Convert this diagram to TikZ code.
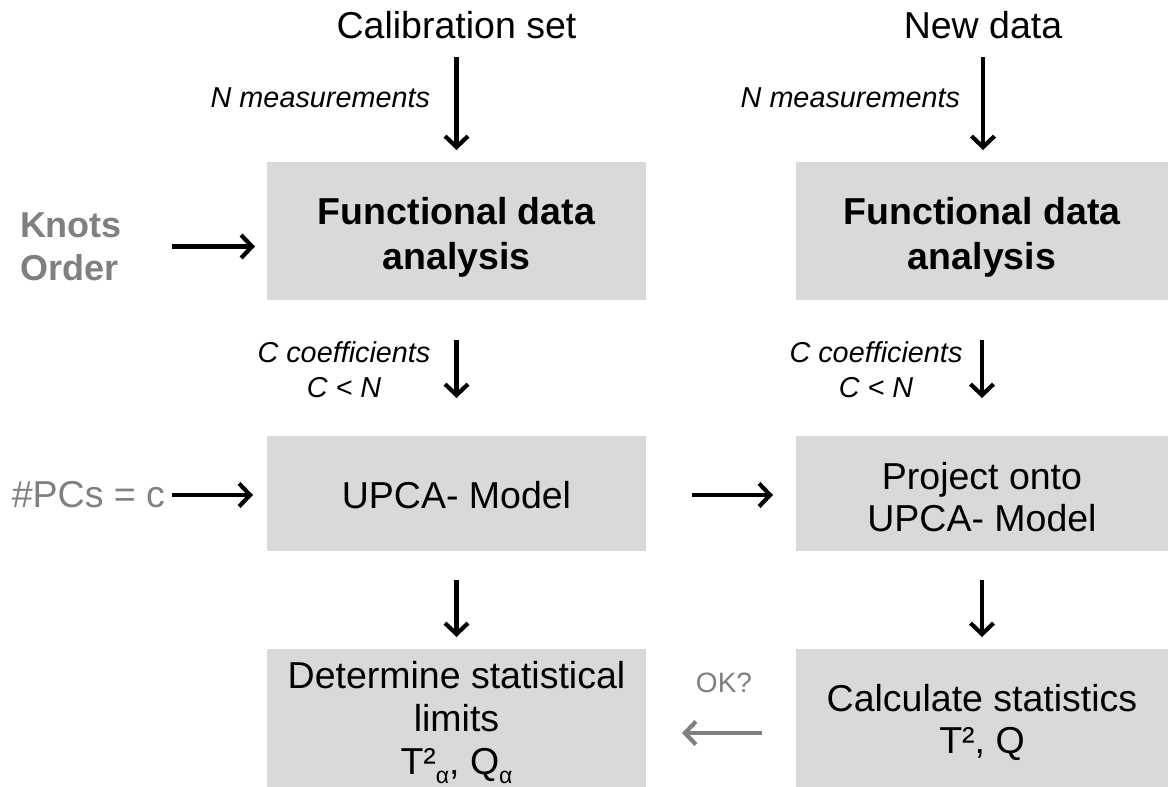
\documentclass[tikz,border=0pt]{standalone}
\usepackage{fontspec}
\setmainfont{Liberation Sans}
\usetikzlibrary{arrows.meta,calc}
\newcommand\fsz[2]{\fontsize{#1}{#2}\selectfont}
\definecolor{boxgray}{HTML}{D9D9D9}
\definecolor{txtgray}{HTML}{808080}
\begin{document}
\begin{tikzpicture}[x=1pt,y=-1pt,
  procbox/.style={fill=boxgray,draw=none,inner sep=0pt,outer sep=0pt},
  proctext/.style={inner sep=0pt,outer sep=0pt,align=center,text=black,font=\fsz{37.5}{44}},
  lbl/.style={inner sep=0pt,outer sep=0pt},
  arr/.style={line width=4.2pt,-{Straight Barb[length=11pt,width=23pt]}},
  garr/.style={arr,draw=txtgray}]
\useasboundingbox (0,0) rectangle (1170,787);
% boxes
\node[procbox,minimum width=379pt,minimum height=138pt] (fda1) at (456.5,231) {};
\node[procbox,minimum width=372pt,minimum height=138pt] (fda2) at (982,231) {};
\node[procbox,minimum width=379pt,minimum height=115pt] (upca1) at (456.5,493.5) {};
\node[procbox,minimum width=372pt,minimum height=115pt] (proj) at (982,493.5) {};
\node[procbox,minimum width=379pt,minimum height=138pt] (det) at (456.5,718) {};
\node[procbox,minimum width=372pt,minimum height=138pt] (calc) at (982,718) {};
% box texts
\node[proctext,font=\bfseries\fsz{37.5}{45}] (fda1t) at (456.5,237) {Functional data\\analysis};
\node[proctext,font=\bfseries\fsz{37.5}{45}] (fda2t) at (982,237) {Functional data\\analysis};
\node[proctext] (upca1t) at (456.5,495) {UPCA- Model};
\node[proctext,font=\fsz{37.5}{42}] (projt) at (982,497) {Project onto\\UPCA- Model};
\node[proctext,font=\fsz{37.5}{43}] (dett) at (456.5,723) {Determine statistical\\limits\\T²\raisebox{-0.24em}{\fsz{23}{23}α}, Q\raisebox{-0.24em}{\fsz{23}{23}α}};
\node[proctext,font=\fsz{37.5}{42}] (calct) at (982,722) {Calculate statistics\\T², Q};
% top texts
\node[lbl,anchor=base,font=\fsz{37.5}{44}] (cal) at (456.5,38) {Calibration set};
\node[lbl,anchor=base,font=\fsz{37.5}{44}] (new) at (983,38) {New data};
% italic labels
\node[lbl,anchor=east,font=\itshape\fsz{28.8}{35}] (nm1) at (430,98) {N measurements};
\node[lbl,anchor=east,font=\itshape\fsz{28.8}{35}] (nm2) at (960,98) {N measurements};
\node[lbl,align=center,font=\itshape\fsz{28.8}{35}] (cc1) at (344,369.5) {C coefficients\\C < N};
\node[lbl,align=center,font=\itshape\fsz{28.8}{35}] (cc2) at (876,369.5) {C coefficients\\C < N};
% gray side inputs
\node[lbl,anchor=west,align=left,text=txtgray,font=\bfseries\fsz{36}{43}] (knots) at (20,246.5) {Knots\\Order};
\node[lbl,anchor=east,text=txtgray,font=\fsz{37.5}{44}] (pcs) at (165,495) {\#PCs = c};
\node[lbl,text=txtgray,font=\fsz{28}{30}] (ok) at (724,683) {OK?};
% arrows
\draw[arr,shorten <=19pt,shorten >=12pt] (cal) -- (cal |- fda1.north);
\draw[arr,shorten <=19pt,shorten >=12pt] (new) -- (new |- fda2.north);
\draw[arr,shorten <=40pt,shorten >=38pt] (fda1) -- (upca1);
\draw[arr,shorten <=40pt,shorten >=38pt] (fda2) -- (proj);
\draw[arr,shorten <=29pt,shorten >=12pt] (upca1) -- (det);
\draw[arr,shorten <=29pt,shorten >=12pt] (proj) -- (calc);
\draw[arr,shorten <=50pt,shorten >=12pt] (knots.east) -- (knots.east -| fda1.west);
\draw[arr,shorten <=7pt,shorten >=14pt] (pcs.east) -- (pcs.east -| upca1.west);
\draw[arr,shorten <=46pt,shorten >=23pt] (upca1.east |- pcs.east) -- (proj.west |- pcs.east);
\draw[garr,shorten <=34pt,shorten >=36pt] ([yshift=-15pt]calc.west) -- ([yshift=-15pt]det.east);
\end{tikzpicture}
\end{document}
